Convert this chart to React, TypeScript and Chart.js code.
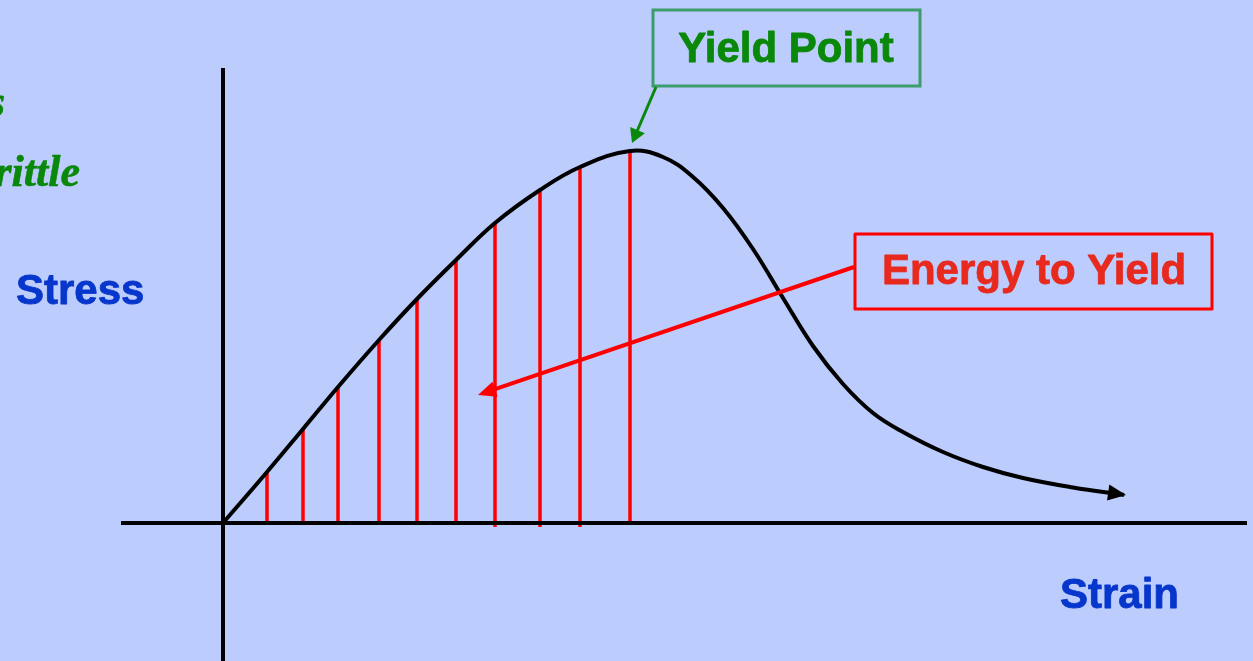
import React, { useEffect, useRef } from "react";
import { Chart, registerables } from "chart.js";

Chart.register(...registerables);

const W = 1253;
const H = 661;
const BG = "#BBCCFD";

// Stress–strain curve (arbitrary units: 1 unit = 100 px)
const strain = [0, 0.44, 0.8, 1.15, 1.56, 1.94, 2.33, 2.72, 3.17, 3.57, 4.07, 4.4, 4.7, 5.0, 5.3, 5.6, 5.9, 6.2, 6.5, 6.8, 7.2, 7.6, 8.0, 8.5, 9.01];
const stress = [0, 0.51, 0.94, 1.36, 1.83, 2.24, 2.63, 3.0, 3.33, 3.56, 3.72, 3.66, 3.46, 3.15, 2.74, 2.25, 1.77, 1.39, 1.1, 0.91, 0.71, 0.56, 0.45, 0.355, 0.28];

// Hatch lines (energy to yield): curve sample indices and their base values
const hatchIdx = [1, 2, 3, 4, 5, 6, 7, 8, 9, 10];
const hatchBase = [0, 0, 0, 0, 0, 0, -0.04, -0.04, -0.04, 0];

// Axis extents
const strainAxis = [-1.02, 10.24];
const stressAxis = [-1.38, 4.55];

// Annotation targets (data units)
const yieldTip = { x: 4.09, y: 3.8 };
const energyTip = { x: 2.55, y: 1.28 };

const labels = {
  yieldPoint: "Yield Point",
  energy: "Energy to Yield",
  stress: "Stress",
  strain: "Strain",
  line1: "Ductile vs",
  line2: "Brittle",
};

function drawArrow(ctx: CanvasRenderingContext2D, x1: number, y1: number, x2: number, y2: number, color: string, width: number, headLen: number, headHalf: number) {
  const dx = x2 - x1;
  const dy = y2 - y1;
  const len = Math.hypot(dx, dy);
  const ux = dx / len;
  const uy = dy / len;
  const bx = x2 - ux * headLen;
  const by = y2 - uy * headLen;
  ctx.save();
  ctx.strokeStyle = color;
  ctx.fillStyle = color;
  ctx.lineWidth = width;
  ctx.lineCap = "butt";
  ctx.beginPath();
  ctx.moveTo(x1, y1);
  ctx.lineTo(x2 - ux * headLen * 0.7, y2 - uy * headLen * 0.7);
  ctx.stroke();
  ctx.beginPath();
  ctx.moveTo(x2, y2);
  ctx.lineTo(bx - uy * headHalf, by + ux * headHalf);
  ctx.lineTo(bx + uy * headHalf, by - ux * headHalf);
  ctx.closePath();
  ctx.fill();
  ctx.restore();
}

function boldText(ctx: CanvasRenderingContext2D, text: string, x: number, y: number, color: string, extra: number) {
  ctx.fillStyle = color;
  ctx.strokeStyle = color;
  ctx.lineWidth = extra;
  ctx.lineJoin = "round";
  ctx.fillText(text, x, y);
  ctx.strokeText(text, x, y);
}

const bgPlugin = {
  id: "bg",
  beforeDraw(chart: any) {
    const ctx = chart.ctx;
    ctx.save();
    ctx.fillStyle = BG;
    ctx.fillRect(0, 0, chart.width, chart.height);
    ctx.restore();
  },
};

const annoPlugin = {
  id: "anno",
  afterDatasetsDraw(chart: any) {
    const ctx: CanvasRenderingContext2D = chart.ctx;
    const xs = chart.scales.x;
    const ys = chart.scales.y;
    const px = (v: number) => xs.getPixelForValue(v);
    const py = (v: number) => ys.getPixelForValue(v);

    // arrowhead at end of curve
    const n = strain.length;
    const tx = px(strain[n - 1]) + 2;
    const ty = py(stress[n - 1]);
    const sx = px(strain[n - 2]);
    const sy = py(stress[n - 2]);
    {
      const dx = tx - sx, dy = ty - sy;
      const l = Math.hypot(dx, dy);
      const ux = dx / l, uy = dy / l;
      const hl = 18, hh = 8;
      const bx = tx - ux * hl, by = ty - uy * hl;
      ctx.save();
      ctx.fillStyle = "#000";
      ctx.beginPath();
      ctx.moveTo(tx, ty);
      ctx.lineTo(bx - uy * hh, by + ux * hh);
      ctx.lineTo(bx + uy * hh, by - ux * hh);
      ctx.closePath();
      ctx.fill();
      ctx.restore();
    }

    ctx.save();
    ctx.textBaseline = "alphabetic";

    // Yield Point box
    ctx.strokeStyle = "#3C9C6C";
    ctx.lineWidth = 3;
    ctx.strokeRect(653, 10, 267, 76);
    ctx.font = 'bold 42px "Liberation Sans", Arial, sans-serif';
    ctx.textAlign = "center";
    boldText(ctx, labels.yieldPoint, 786, 62, "#0A880A", 0.8);
    drawArrow(ctx, 656, 87, px(yieldTip.x), py(yieldTip.y), "#0A880A", 3, 14, 8);

    // Energy to Yield box
    ctx.strokeStyle = "#FF0000";
    ctx.lineWidth = 3;
    ctx.strokeRect(855, 234, 357, 75);
    boldText(ctx, labels.energy, 1034, 284, "#E8291E", 0.8);
    drawArrow(ctx, 854, 267, px(energyTip.x), py(energyTip.y), "#FF0000", 4, 18, 8);

    // Axis titles
    ctx.textAlign = "left";
    boldText(ctx, labels.stress, 16, 304, "#0636CC", 0.8);
    boldText(ctx, labels.strain, 1060, 608, "#0636CC", 0.8);

    // Cropped italic text on the left
    ctx.font = 'bold italic 44px "Liberation Serif", "Times New Roman", serif';
    ctx.textAlign = "right";
    boldText(ctx, labels.line1, 5, 116, "#0A880A", 0.6);
    boldText(ctx, labels.line2, 80, 186, "#0A880A", 0.6);
    ctx.restore();
  },
};

export default function App() {
  const ref = useRef<HTMLCanvasElement>(null);
  useEffect(() => {
    const curve = strain.map((x, i) => ({ x, y: stress[i] }));
    const hatch: any[] = [];
    hatchIdx.forEach((idx, k) => {
      hatch.push({ x: strain[idx], y: hatchBase[k] });
      hatch.push({ x: strain[idx], y: stress[idx] });
      hatch.push({ x: strain[idx], y: null });
    });
    const chart = new Chart(ref.current!, {
      type: "line",
      data: {
        datasets: [
          {
            data: curve,
            borderColor: "#000",
            borderWidth: 4,
            pointRadius: 0,
            tension: 0.4,
            order: 0,
          },
          {
            data: [
              { x: strainAxis[0], y: 0 },
              { x: strainAxis[1], y: 0 },
              { x: strainAxis[1], y: null },
              { x: 0, y: stressAxis[0] },
              { x: 0, y: stressAxis[1] },
            ],
            borderColor: "#000",
            borderWidth: 4,
            pointRadius: 0,
            tension: 0,
            spanGaps: false,
            order: 1,
          },
          {
            data: hatch,
            borderColor: "#FF0000",
            borderWidth: 3.5,
            pointRadius: 0,
            tension: 0,
            spanGaps: false,
            order: 2,
          },
        ] as any,
      },
      options: {
        animation: false,
        responsive: false,
        devicePixelRatio: 1,
        layout: { padding: 0 },
        plugins: { legend: { display: false }, tooltip: { enabled: false } },
        events: [],
        scales: {
          x: { type: "linear", display: false, min: -2.23, max: 10.3 },
          y: { type: "linear", display: false, min: -1.38, max: 5.23 },
        },
      } as any,
      plugins: [bgPlugin, annoPlugin],
    });
    return () => chart.destroy();
  }, []);
  return (
    <div style={{ position: "fixed", left: 0, top: 0, width: W, height: H, background: BG }}>
      <canvas ref={ref} width={W} height={H} style={{ display: "block", width: W, height: H }} />
    </div>
  );
}
